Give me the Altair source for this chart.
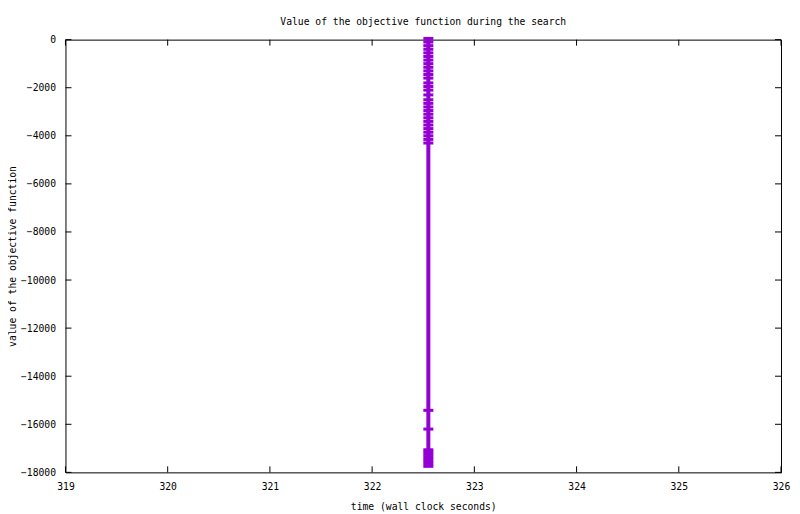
import altair as alt
import pandas as pd

# objective value samples
times = [322.55] * 39
values = [50, -100, -250, -400, -550, -700, -850, -1000, -1150, -1300,
          -1450, -1600, -1800, -1950, -2100, -2300, -2500, -2650, -2800, -2950,
          -3100, -3250, -3400, -3550, -3700, -3850, -4000, -4150, -4300,
          -15420, -16200, -17060, -17150, -17250, -17350, -17450, -17550, -17650, -17750]
order = list(range(len(values)))

x_ticks = [319, 320, 321, 322, 323, 324, 325, 326]
y_ticks = [0, -2000, -4000, -6000, -8000, -10000, -12000, -14000, -16000, -18000]

W, H = 716, 433
FONT = "DejaVu Sans Mono"
PURPLE = "#9400d3"

df = pd.DataFrame({"t": times, "v": values, "o": order})
xt = pd.DataFrame({"x": x_ticks})
yt = pd.DataFrame({"y": y_ticks})

xs = alt.Scale(domain=[319, 326], nice=False, zero=False)
ys = alt.Scale(domain=[-18000, 0], nice=False, zero=False)

xaxis = alt.Axis(values=x_ticks, format="d", ticks=False, domain=False, grid=False,
                 labelFlush=False, labelOverlap=False,
                 labelPadding=9, labelFont=FONT, labelFontSize=9.7, labelColor="black",
                 title="time (wall clock seconds)", titleFont=FONT, titleFontSize=9.7,
                 titleFontWeight="normal", titleColor="black", titlePadding=10)
yaxis = alt.Axis(values=y_ticks, format="d", ticks=False, domain=False, grid=False,
                 labelFlush=False, labelOverlap=False,
                 labelPadding=10, labelFont=FONT, labelFontSize=9.7, labelColor="black",
                 title="value of the objective function", titleFont=FONT, titleFontSize=9.7,
                 titleFontWeight="normal", titleColor="black", titleX=-53, titleY=H / 2,
                 titleAngle=270, titleBaseline="middle")

line = alt.Chart(df).mark_line(color=PURPLE, strokeWidth=4).encode(
    x=alt.X("t:Q", scale=xs, axis=xaxis),
    y=alt.Y("v:Q", scale=ys, axis=yaxis),
    order="o:Q",
)
pts = alt.Chart(df).mark_tick(color=PURPLE, orient="horizontal", size=10, thickness=3,
                              opacity=1).encode(
    x=alt.X("t:Q", scale=xs),
    y=alt.Y("v:Q", scale=ys),
)

yl = alt.Chart(yt).mark_rule(color="black").encode(y=alt.Y("y:Q", scale=ys), x=alt.value(0), x2=alt.value(6))
yr = alt.Chart(yt).mark_rule(color="black").encode(y=alt.Y("y:Q", scale=ys), x=alt.value(W - 6), x2=alt.value(W))
xb = alt.Chart(xt).mark_rule(color="black").encode(x=alt.X("x:Q", scale=xs), y=alt.value(H - 6), y2=alt.value(H))
xtp = alt.Chart(xt).mark_rule(color="black").encode(x=alt.X("x:Q", scale=xs), y=alt.value(0), y2=alt.value(6))

chart = alt.layer(yl, yr, xb, xtp, line, pts).properties(
    width=W, height=H,
    title=alt.TitleParams("Value of the objective function during the search", font=FONT,
                          fontSize=9.7, fontWeight="normal", color="black", offset=4),
    padding={"left": 57.5, "top": 31.5, "right": 11, "bottom": 40},
    autosize="none",
    background="white",
).configure_view(stroke="black", strokeWidth=1)

chart.save("out.html", embed_options={"renderer": "svg", "actions": False})
